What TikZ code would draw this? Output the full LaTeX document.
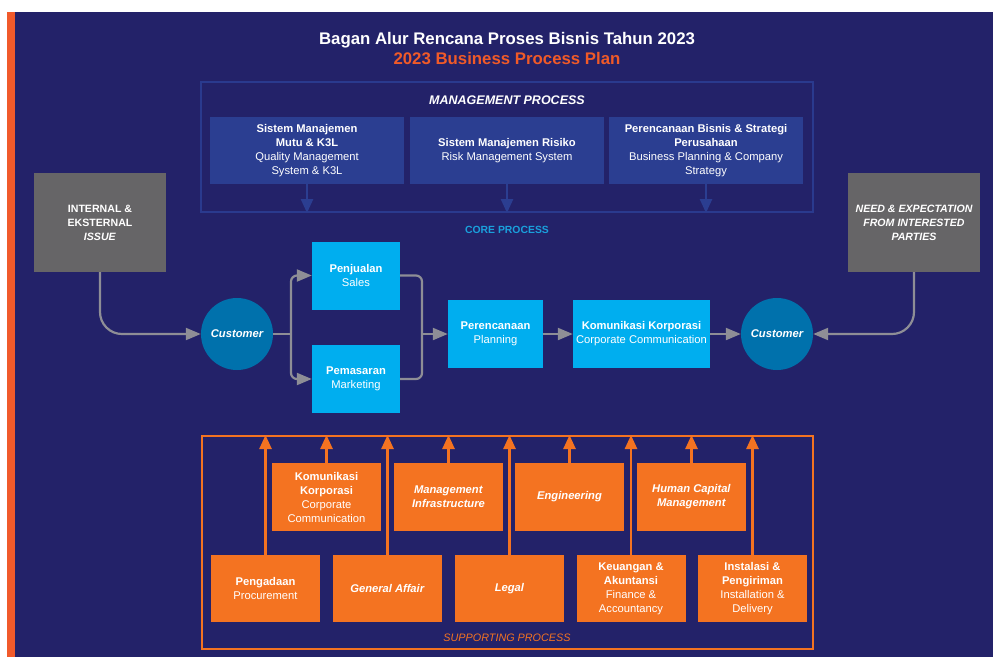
\documentclass[tikz,border=0pt]{standalone}
\usepackage{fontspec}
\setmainfont{Liberation Sans}
\usetikzlibrary{arrows.meta}

\definecolor{navy}{RGB}{35,34,105}
\definecolor{stripe}{RGB}{241,90,43}
\definecolor{titleorange}{RGB}{240,90,40}
\definecolor{mgmtblue}{RGB}{43,62,145}
\definecolor{mgmtline}{RGB}{42,58,142}
\definecolor{corecyan}{RGB}{0,174,239}
\definecolor{corelabel}{RGB}{26,160,220}
\definecolor{custblue}{RGB}{0,113,172}
\definecolor{issuegray}{RGB}{102,101,103}
\definecolor{linegray}{RGB}{142,142,150}
\definecolor{suporange}{RGB}{244,115,33}

\newcommand{\bxfont}{\fontsize{11.2}{14}\selectfont}

\begin{document}
\begin{tikzpicture}[x=1pt, y=-1pt,
    every node/.style={text=white, align=center, inner sep=1pt, font=\bxfont},
    mframe/.style={draw=mgmtline, line width=2pt, minimum width=612pt, minimum height=130pt},
    sframe/.style={draw=suporange, line width=2pt, minimum width=611pt, minimum height=213pt},
    mgmtbox/.style={fill=mgmtblue, minimum width=194pt, minimum height=67pt},
    corebox/.style={fill=corecyan, minimum height=68pt},
    custnode/.style={circle, fill=custblue, minimum size=72pt, font=\bxfont\bfseries\itshape},
    issuebox/.style={fill=issuegray, minimum width=132pt, minimum height=99pt,
        font=\fontsize{10.6}{14}\selectfont\bfseries},
    supbox/.style={fill=suporange, minimum width=109pt, minimum height=68pt},
    mgmtarrow/.style={draw=mgmtblue, line width=2.4pt, -{Triangle[width=12pt,length=14pt]}},
    grayarrow/.style={draw=linegray, line width=2.2pt, rounded corners=6pt,
        -{Triangle[width=12pt,length=15pt]}},
    suparrow/.style={draw=suporange, line width=2.5pt, -{Triangle[width=12pt,length=14pt]}}
]

    % --- Fond ---
    \useasboundingbox (0,0) rectangle (993,657);
    \fill[white] (0,0) rectangle (993,657);
    \fill[stripe] (7,12) rectangle (15,657);
    \fill[navy] (15,12) rectangle (993,657);

    % --- Titre ---
    \node[font=\fontsize{16.8}{20}\selectfont\bfseries] (title) at (507,40)
        {Bagan Alur Rencana Proses Bisnis Tahun 2023};
    \node[text=titleorange, font=\fontsize{16.8}{20}\selectfont\bfseries] (subtitle) at (507,59)
        {2023 Business Process Plan};

    % --- Management process ---
    \node[mframe] (mgmt) at (507,147) {};
    \node[font=\fontsize{12.5}{15}\selectfont\bfseries\itshape] (mgmtlabel) at (507,100) {MANAGEMENT PROCESS};
    \node[mgmtbox] (mutu) at (307,150.5)
        {\textbf{Sistem Manajemen}\\\textbf{Mutu \& K3L}\\Quality Management\\System \& K3L};
    \node[mgmtbox] (risiko) at (507,150.5)
        {\textbf{Sistem Manajemen Risiko}\\Risk Management System};
    \node[mgmtbox] (strategi) at (706,150.5)
        {\textbf{Perencanaan Bisnis \& Strategi}\\\textbf{Perusahaan}\\Business Planning \& Company\\Strategy};
    \draw[mgmtarrow] (mutu.south) -- (mutu.south |- mgmt.south);
    \draw[mgmtarrow] (risiko.south) -- (risiko.south |- mgmt.south);
    \draw[mgmtarrow] (strategi.south) -- (strategi.south |- mgmt.south);

    % --- Core process ---
    \node[text=corelabel, font=\fontsize{10.4}{13}\selectfont\bfseries] (corelabel) at (507,230) {CORE PROCESS};
    \node[issuebox] (issue) at (100,222.5) {INTERNAL \&\\EKSTERNAL\\\textit{ISSUE}};
    \node[issuebox, font=\fontsize{10.6}{14}\selectfont\bfseries\itshape] (need) at (914,222.5)
        {NEED \& EXPECTATION\\FROM INTERESTED\\PARTIES};
    \node[custnode] (custin) at (237,334) {Customer};
    \node[custnode] (custout) at (777,334) {Customer};
    \node[corebox, minimum width=88pt] (sales) at (356,275.5) {\textbf{Penjualan}\\Sales};
    \node[corebox, minimum width=88pt] (mkt) at (356,379) {\textbf{Pemasaran}\\Marketing};
    \node[corebox, minimum width=95pt] (plan) at (495.5,334) {\textbf{Perencanaan}\\Planning};
    \node[corebox, minimum width=137pt] (corpcom) at (641.5,334)
        {\textbf{Komunikasi Korporasi}\\Corporate Communication};

    \coordinate (split) at (291,334);
    \coordinate (merge) at (422,334);

    \draw[grayarrow, rounded corners=22pt] (issue.south) |- (custin);
    \draw[grayarrow, rounded corners=22pt] (need.south) |- (custout);
    \draw[draw=linegray, line width=2.2pt] (custin.east) -- (split);
    \draw[grayarrow] (split) |- (sales);
    \draw[grayarrow] (split) |- (mkt);
    \draw[draw=linegray, line width=2.2pt, rounded corners=6pt] (sales.east) -| (merge);
    \draw[draw=linegray, line width=2.2pt, rounded corners=6pt] (mkt.east) -| (merge);
    \draw[grayarrow] (merge) -- (plan.west);
    \draw[grayarrow] (plan) -- (corpcom);
    \draw[grayarrow] (corpcom) -- (custout);

    % --- Supporting process ---
    \node[sframe] (support) at (507.5,542.5) {};
    \node[text=suporange, font=\fontsize{10.8}{13}\selectfont\itshape] (suplabel) at (507,638) {SUPPORTING PROCESS};

    % rangee haute
    \node[supbox] (kompor) at (326.5,497) {\textbf{Komunikasi}\\\textbf{Korporasi}\\Corporate\\Communication};
    \node[supbox] (infra) at (448.5,497) {\textbf{\textit{Management}}\\\textbf{\textit{Infrastructure}}};
    \node[supbox] (eng) at (569.5,497) {\textbf{\textit{Engineering}}};
    \node[supbox] (hcm) at (691.5,497) {\textbf{\textit{Human Capital}}\\\textbf{\textit{Management}}};

    % rangee basse
    \node[supbox, minimum height=67pt] (procure) at (265.5,588.5) {\textbf{Pengadaan}\\Procurement};
    \node[supbox, minimum height=67pt] (ga) at (387.5,588.5) {\textbf{\textit{General Affair}}};
    \node[supbox, minimum height=67pt] (legal) at (509.5,588.5) {\textbf{\textit{Legal}}};
    \node[supbox, minimum height=67pt] (fin) at (631,588.5)
        {\textbf{Keuangan \&}\\\textbf{Akuntansi}\\Finance \&\\Accountancy};
    \node[supbox, minimum height=67pt] (install) at (752.5,588.5)
        {\textbf{Instalasi \&}\\\textbf{Pengiriman}\\Installation \&\\Delivery};

    % fleches vers le haut
    \draw[suparrow] (kompor.north) -- (kompor.north |- support.north);
    \draw[suparrow] (infra.north) -- (infra.north |- support.north);
    \draw[suparrow] (eng.north) -- (eng.north |- support.north);
    \draw[suparrow] (hcm.north) -- (hcm.north |- support.north);
    \draw[suparrow] (procure.north) -- (procure.north |- support.north);
    \draw[suparrow] (ga.north) -- (ga.north |- support.north);
    \draw[suparrow] (legal.north) -- (legal.north |- support.north);
    \draw[suparrow] (fin.north) -- (fin.north |- support.north);
    \draw[suparrow] (install.north) -- (install.north |- support.north);

\end{tikzpicture}
\end{document}
